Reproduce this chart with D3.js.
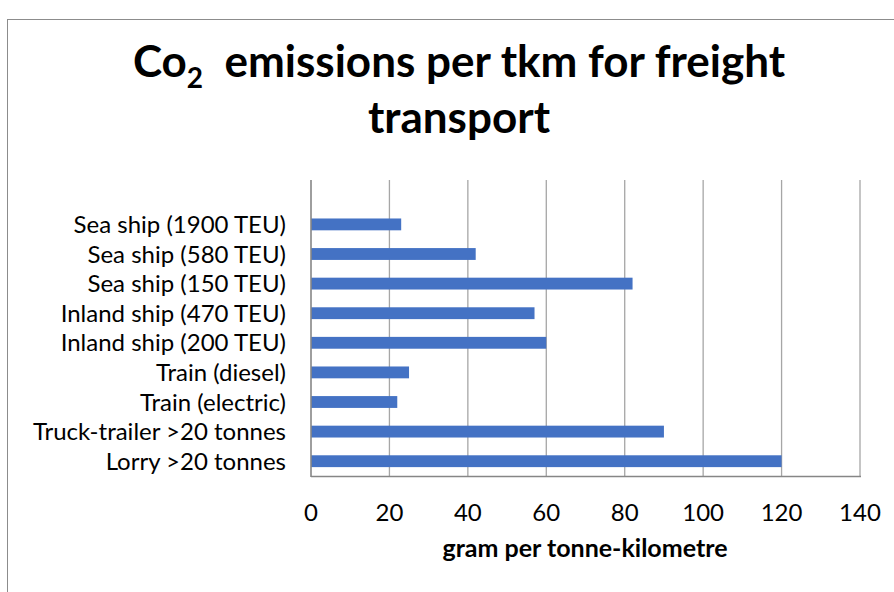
<!DOCTYPE html>
<html><head><meta charset="utf-8">
<script src="https://cdn.jsdelivr.net/npm/d3@7"></script>
<style>html,body{margin:0;padding:0;background:#fff;}svg{display:block;}</style>
</head><body>
<script>
const categories = ["Sea ship (1900 TEU)","Sea ship (580 TEU)","Sea ship (150 TEU)","Inland ship (470 TEU)","Inland ship (200 TEU)","Train (diesel)","Train (electric)","Truck-trailer >20 tonnes","Lorry >20 tonnes"];
const values = [23, 42, 82, 57, 60, 25, 22, 90, 120];
const xTicks = [0,20,40,60,80,100,120,140];
const xTitle = "gram per tonne-kilometre";

const W = 894, H = 592;
const font = "Lato, 'Open Sans', sans-serif";
const svg = d3.select("body").append("svg").attr("width", W).attr("height", H);
svg.append("rect").attr("x",7.5).attr("y",19.5).attr("width",W).attr("height",H)
  .attr("fill","#fff").attr("stroke","#8c8c8c").attr("stroke-width",1);

const x = d3.scaleLinear().domain([0,140]).range([311,860]);
const y = d3.scaleBand().domain([""].concat(categories)).range([180,476]).paddingInner(0.6).paddingOuter(0.3);

// title
const t = svg.append("text").attr("text-anchor","middle").attr("font-family",font)
  .attr("font-weight","bold").attr("font-size",44).attr("fill","#000");
const l1 = t.append("tspan").attr("x",459).attr("y",77);
l1.append("tspan").text("Co");
l1.append("tspan").attr("font-size",28).attr("dy",11).text("2");
l1.append("tspan").attr("dy",-11).text("\u00a0 emissions per tkm for freight");
t.append("tspan").attr("x",459).attr("y",133).text("transport");

// grid
svg.append("g").selectAll("line").data(xTicks.slice(1)).join("line")
  .attr("x1",d=>x(d)).attr("x2",d=>x(d)).attr("y1",180).attr("y2",476)
  .attr("stroke","#a6a6a6").attr("stroke-width",1.3);

// bars
svg.append("g").selectAll("rect").data(values).join("rect")
  .attr("x",x(0)).attr("y",(d,i)=>y(categories[i]))
  .attr("width",d=>x(d)-x(0)).attr("height",y.bandwidth())
  .attr("fill","#4472c4");

// axes lines
svg.append("line").attr("x1",x(0)).attr("x2",x(0)).attr("y1",180).attr("y2",477).attr("stroke","#868686").attr("stroke-width",1.6);
svg.append("line").attr("x1",x(0)).attr("x2",x(140)+1).attr("y1",476.5).attr("y2",476.5).attr("stroke","#868686").attr("stroke-width",1.6);

// y labels
svg.append("g").selectAll("text").data(categories).join("text")
  .attr("x",286).attr("y",d=>y(d)+y.bandwidth()/2).attr("dy","0.36em")
  .attr("text-anchor","end").attr("font-family",font).attr("font-size",24).attr("fill","#000").text(d=>d);

// x tick labels
svg.append("g").selectAll("text").data(xTicks).join("text")
  .attr("x",d=>x(d)).attr("y",521).attr("text-anchor","middle")
  .attr("font-family",font).attr("font-size",24).attr("fill","#000").text(d=>d);

svg.append("text").attr("x",585).attr("y",557).attr("text-anchor","middle")
  .attr("font-family",font).attr("font-weight","bold").attr("font-size",25).attr("fill","#000").text(xTitle);
</script>
</body></html>
